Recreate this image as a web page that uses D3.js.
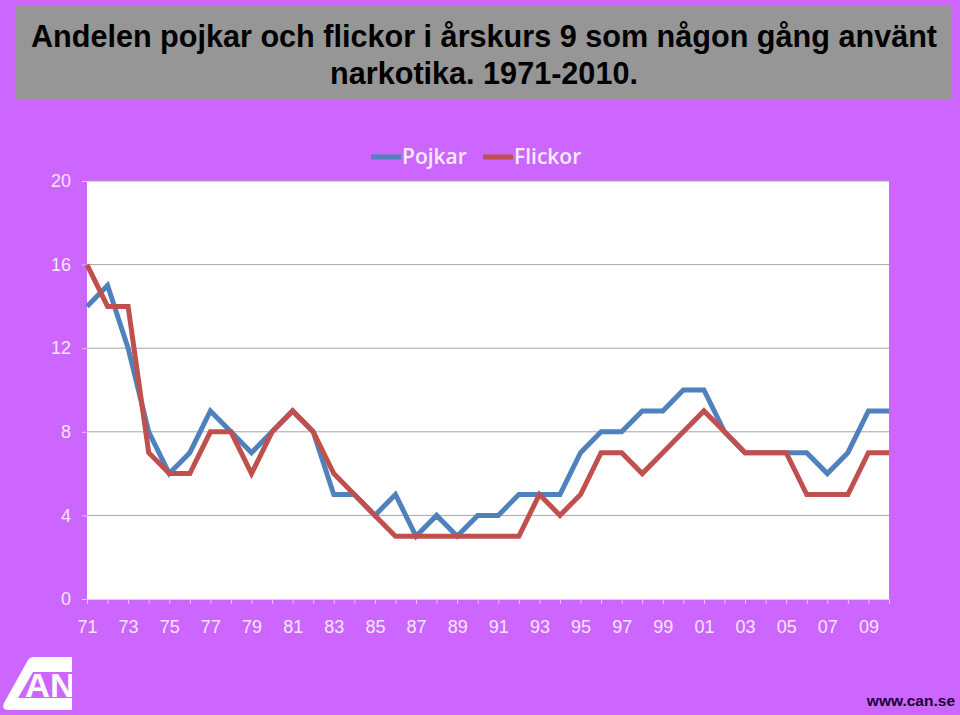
<!DOCTYPE html>
<html>
<head>
<meta charset="utf-8">
<script src="https://cdn.jsdelivr.net/npm/d3@7"></script>
<style>
html, body { margin: 0; padding: 0; background: #cc66ff; }
svg { display: block; }
</style>
</head>
<body>
<div id="chart"></div>
<script>
const years = ["71","72","73","74","75","76","77","78","79","80","81","82","83","84","85","86","87","88","89","90","91","92","93","94","95","96","97","98","99","00","01","02","03","04","05","06","07","08","09","10"];
const pojkar = [14,15,12,8,6,7,9,8,7,8,9,8,5,5,4,5,3,4,3,4,4,5,5,5,7,8,8,9,9,10,10,8,7,7,7,7,6,7,9,9];
const flickor = [16,14,14,7,6,6,8,8,6,8,9,8,6,5,4,3,3,3,3,3,3,3,5,4,5,7,7,6,7,8,9,8,7,7,7,5,5,5,7,7];
const yTicks = [0,4,8,12,16,20];
const titleLines = ["Andelen pojkar och flickor i årskurs 9 som någon gång använt", "narkotika. 1971-2010."];
const legendNames = ["Pojkar","Flickor"];
const colors = ["#4f81bd","#c0504d"];

var width = 960, height = 715;
var svg = d3.select("#chart").append("svg")
    .attr("width", width)
    .attr("height", height);

svg.append("rect")
    .attr("width", width)
    .attr("height", height)
    .style("fill", "#cc66ff");

// title box
svg.append("rect")
    .attr("x", 15)
    .attr("y", 5)
    .attr("width", 937)
    .attr("height", 95)
    .style("fill", "#969696");

svg.selectAll(".title").data(titleLines).enter().append("text")
    .attr("class", "title")
    .attr("x", 484)
    .attr("y", (d, i) => 47 + i * 37)
    .attr("text-anchor", "middle")
    .style("font-family", "'Liberation Sans', Arial, sans-serif")
    .style("font-size", "30.6px")
    .style("font-weight", "bold")
    .style("fill", "#000")
    .text(d => d);

var x = d3.scalePoint().domain(years).range([87, 889]);
var y = d3.scaleLinear().domain([0, 20]).range([599, 181]);

// plot area
svg.append("rect")
    .attr("x", 87)
    .attr("y", 181)
    .attr("width", 802)
    .attr("height", 418)
    .style("fill", "#fff");

// gridlines
svg.selectAll(".grid").data(yTicks.filter(d => d > 0)).enter().append("line")
    .attr("class", "grid")
    .attr("x1", 87)
    .attr("x2", 889)
    .attr("y1", d => y(d))
    .attr("y2", d => y(d))
    .style("stroke", "#a6a6a6")
    .style("stroke-width", 1);

// axes
var yAxis = d3.axisLeft(y).tickValues(yTicks).tickSize(5).tickPadding(11);
var xAxis = d3.axisBottom(x).tickSize(5).tickPadding(16)
    .tickFormat((d, i) => i % 2 == 0 ? d : "");

var gy = svg.append("g").attr("transform", "translate(87,0)").call(yAxis);
var gx = svg.append("g").attr("transform", "translate(0,599)").call(xAxis);

gy.select(".domain").remove();
gx.select(".domain").style("stroke", "#e6c2ff");
gy.selectAll("line").style("stroke", "#e6c2ff");
gx.selectAll("line").style("stroke", "#e6c2ff");
svg.selectAll("g text")
    .style("font-family", "'Liberation Sans', Arial, sans-serif")
    .style("font-size", "18px")
    .style("fill", "#f5e6ff");

// lines
var line = d3.line().x((d, i) => x(years[i])).y(d => y(d));

[pojkar, flickor].forEach(function(s, i) {
    svg.append("path")
        .datum(s)
        .attr("d", line)
        .style("fill", "none")
        .style("stroke", colors[i])
        .style("stroke-width", 5)
        .style("stroke-linejoin", "miter");
});

// legend
var legendX = [371, 483];
legendNames.forEach(function(name, i) {
    svg.append("line")
        .attr("x1", legendX[i])
        .attr("x2", legendX[i] + 30)
        .attr("y1", 157)
        .attr("y2", 157)
        .style("stroke", colors[i])
        .style("stroke-width", 5);
    svg.append("text")
        .attr("x", legendX[i] + 31)
        .attr("y", 164)
        .style("font-family", "'Open Sans', 'Noto Sans', sans-serif")
        .style("font-size", "21px")
        .style("font-weight", "600")
        .style("fill", "#f7ecff")
        .text(name);
});

// logo
var logo = svg.append("g");
logo.append("path")
    .attr("d", "M28,660 Q30,657 34,657 L72,657 L72,710 L8,710 Q1,710 4,703 Z")
    .style("fill", "#fff");
logo.append("path")
    .attr("d", "M33,672 L72,672 L72,698 L18,698 Z")
    .style("fill", "#cc66ff");
logo.append("text")
    .attr("x", 25)
    .attr("y", 697)
    .attr("textLength", 50)
    .attr("lengthAdjust", "spacingAndGlyphs")
    .style("font-family", "'Liberation Sans', Arial, sans-serif")
    .style("font-size", "34px")
    .style("font-weight", "bold")
    .style("fill", "#fff")
    .text("AN");
logo.append("rect")
    .attr("x", 72)
    .attr("y", 655)
    .attr("width", 30)
    .attr("height", 58)
    .style("fill", "#cc66ff");

// url
svg.append("text")
    .attr("x", 955)
    .attr("y", 706)
    .attr("text-anchor", "end")
    .style("font-family", "'Liberation Sans', Arial, sans-serif")
    .style("font-size", "15.5px")
    .style("font-weight", "bold")
    .style("fill", "#1a0033")
    .text("www.can.se");
</script>
</body>
</html>
